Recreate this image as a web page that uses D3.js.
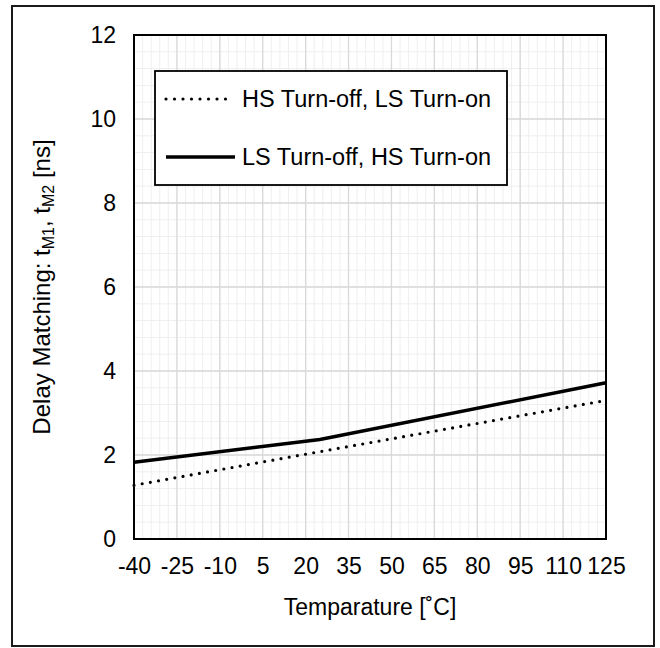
<!DOCTYPE html>
<html><head><meta charset="utf-8">
<script src="https://cdn.jsdelivr.net/npm/d3@7"></script>
<style>body{margin:0;background:#fff}svg{display:block;font-family:Arial,"Liberation Sans",sans-serif}</style>
</head><body>
<svg id="c" width="660" height="648"></svg>
<script>
const xTicks = [-40,-25,-10,5,20,35,50,65,80,95,110,125];
const yTicks = [0,2,4,6,8,10,12];
const seriesNames = ["HS Turn-off, LS Turn-on","LS Turn-off, HS Turn-on"];
const temps = [-40,25,125];
const hsOffLsOn = [1.28,2.08,3.3];
const lsOffHsOn = [1.83,2.37,3.72];

const FONT = "Arial, 'Liberation Sans', sans-serif";
const svg = d3.select("#c");
const L=134,R=606,T=35,B=539;
const x = d3.scaleLinear().domain([-40,125]).range([L,R]);
const y = d3.scaleLinear().domain([0,12]).range([B,T]);

svg.append("rect").attr("x",12).attr("y",6).attr("width",642).attr("height",640)
  .attr("fill","#fff").attr("stroke","#1a1a1a").attr("stroke-width",2);

// minor grid
const g = svg.append("g");
const xMinor = d3.range(-40,125.001,3);
const yMinor = d3.range(0,12.001,0.4);
g.selectAll(".xm").data(xMinor).join("line").attr("x1",d=>x(d)).attr("x2",d=>x(d)).attr("y1",T).attr("y2",B).attr("stroke","#efefef").attr("stroke-width",1);
g.selectAll(".ym").data(yMinor).join("line").attr("y1",d=>y(d)).attr("y2",d=>y(d)).attr("x1",L).attr("x2",R).attr("stroke","#efefef").attr("stroke-width",1);
// major grid
g.selectAll(".xM").data(xTicks).join("line").attr("x1",d=>x(d)).attr("x2",d=>x(d)).attr("y1",T).attr("y2",B).attr("stroke","#d9d9d9").attr("stroke-width",1.3);
g.selectAll(".yM").data(yTicks).join("line").attr("y1",d=>y(d)).attr("y2",d=>y(d)).attr("x1",L).attr("x2",R).attr("stroke","#d9d9d9").attr("stroke-width",1.3);

// axes labels via d3 axes
const fmt = d => String(d);
const xAxis = d3.axisBottom(x).tickValues(xTicks).tickFormat(fmt).tickSize(0).tickPadding(19);
const xa = svg.append("g").attr("transform",`translate(0,${B})`).call(xAxis);
xa.select(".domain").remove();
xa.selectAll("text").attr("font-size",23).attr("fill","#000").attr("font-family",FONT);
const yAxis = d3.axisLeft(y).tickValues(yTicks).tickFormat(fmt).tickSize(0).tickPadding(18);
const ya = svg.append("g").attr("transform",`translate(${L},0)`).call(yAxis);
ya.select(".domain").remove();
ya.selectAll("text").attr("font-size",23).attr("fill","#000").attr("font-family",FONT);

// lines
const line = d3.line().x(d=>x(d[0])).y(d=>y(d[1]));
svg.append("path").datum(temps.map((t,i)=>[t,hsOffLsOn[i]])).attr("d",line)
  .attr("fill","none").attr("stroke","#000").attr("stroke-width",3.2).attr("stroke-linecap","round").attr("stroke-dasharray","0,8.3");
svg.append("path").datum(temps.map((t,i)=>[t,lsOffHsOn[i]])).attr("d",line)
  .attr("fill","none").attr("stroke","#000").attr("stroke-width",3.5);

// plot border
svg.append("rect").attr("x",L).attr("y",T).attr("width",R-L).attr("height",B-T)
  .attr("fill","none").attr("stroke","#000").attr("stroke-width",2);

// legend
const lg = svg.append("g").attr("font-family",FONT);
lg.append("rect").attr("x",155).attr("y",71).attr("width",352).attr("height",114).attr("fill","#fff").attr("stroke","#000").attr("stroke-width",1.8);
lg.append("line").attr("x1",166).attr("x2",234).attr("y1",99).attr("y2",99).attr("stroke","#000").attr("stroke-width",3.2).attr("stroke-linecap","round").attr("stroke-dasharray","0,8.5");
lg.append("line").attr("x1",166).attr("x2",235).attr("y1",157).attr("y2",157).attr("stroke","#000").attr("stroke-width",3.5);
lg.append("text").attr("x",242).attr("y",99).attr("dy","0.35em").attr("font-size",23.5).text(seriesNames[0]);
lg.append("text").attr("x",242).attr("y",157).attr("dy","0.35em").attr("font-size",23.5).text(seriesNames[1]);

// axis titles
svg.append("text").attr("x",(L+R)/2).attr("y",607).attr("dy","0.35em").attr("text-anchor","middle").attr("font-size",23).attr("font-family",FONT).text("Temparature [˚C]");
const yt = svg.append("text").attr("transform",`translate(42,${(T+B)/2}) rotate(-90)`).attr("dy","0.35em").attr("text-anchor","middle").attr("font-size",24).attr("font-family",FONT);
yt.append("tspan").text("Delay Matching: t");
yt.append("tspan").attr("font-size",16).attr("baseline-shift","-25%").text("M1");
yt.append("tspan").text(", t");
yt.append("tspan").attr("font-size",16).attr("baseline-shift","-25%").text("M2");
yt.append("tspan").text(" [ns]");
</script>
</body></html>
